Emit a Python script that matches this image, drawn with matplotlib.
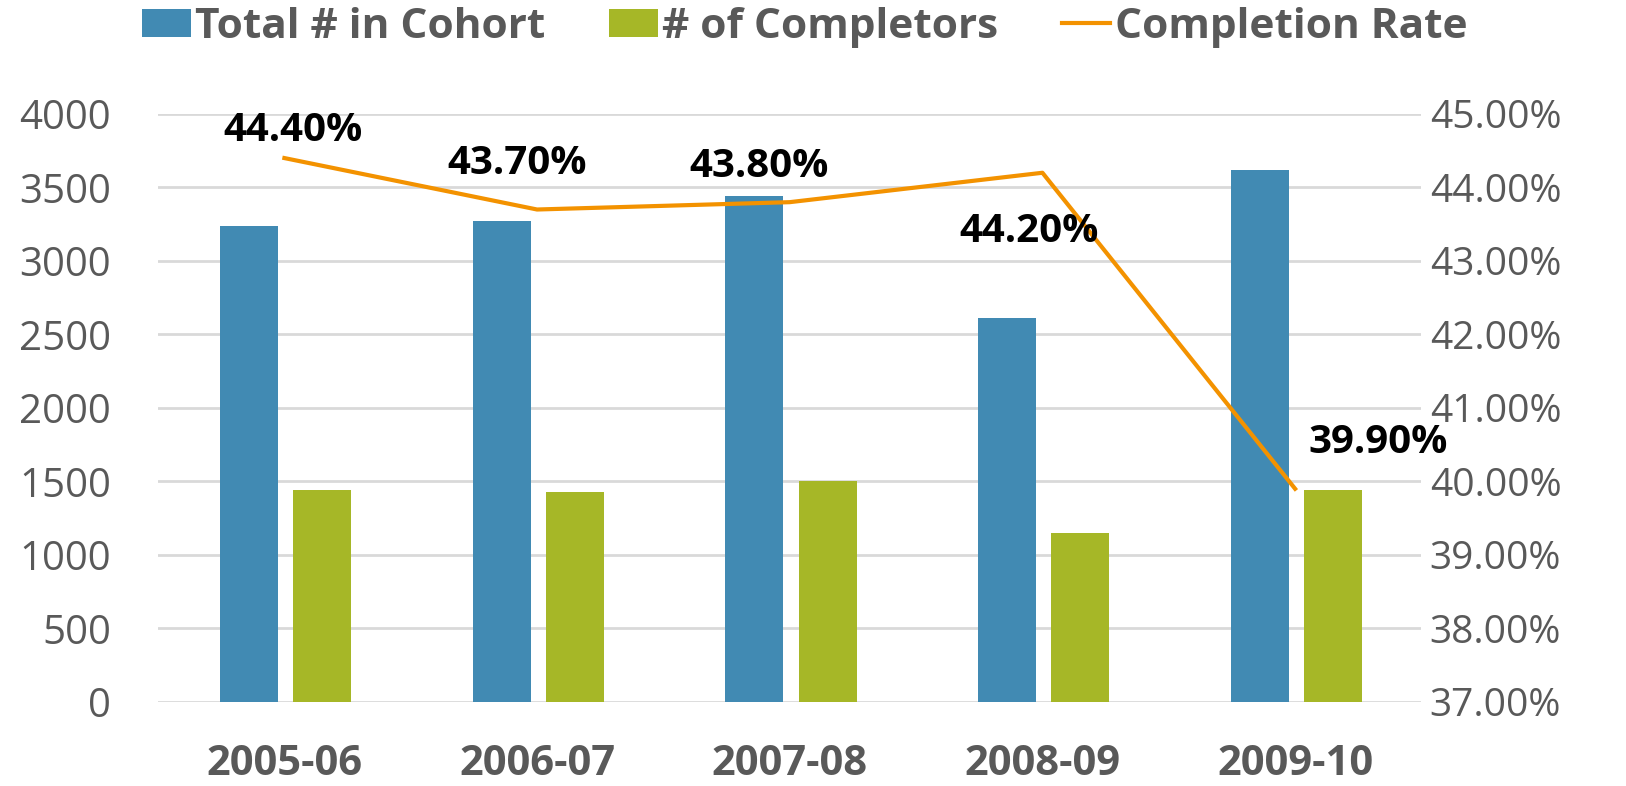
import numpy as np
import matplotlib.pyplot as plt

years = ["2005-06", "2006-07", "2007-08", "2008-09", "2009-10"]
total_cohort = [3240, 3270, 3440, 2610, 3620]
completors = [1440, 1430, 1500, 1150, 1445]
completion_rate = [44.4, 43.7, 43.8, 44.2, 39.9]
rate_labels = ["44.40%", "43.70%", "43.80%", "44.20%", "39.90%"]

plt.rcParams['font.family'] = ["Open Sans", "DejaVu Sans"]

grey = "#595959"
blue = "#418ab3"
green = "#a6b727"
orange = "#f39200"

fig = plt.figure(figsize=(16.26, 7.86), dpi=100)
ax = fig.add_axes([0.0972, 0.107, 0.777, 0.748])
ax2 = ax.twinx()

x = np.arange(len(years))
w = 0.23
b1 = ax.bar(x - 0.14, total_cohort, w, color=blue, zorder=3)
b2 = ax.bar(x + 0.15, completors, w, color=green, zorder=3)
ln, = ax2.plot(x, completion_rate, color=orange, lw=3)

ax.set_xlim(-0.5, 4.5)
ax.set_ylim(0, 4000)
ax.set_yticks(range(0, 4001, 500))
ax2.set_ylim(37, 45)
ax2.set_yticks(range(37, 46))
ax2.set_yticklabels([f"{v:.2f}%" for v in range(37, 46)])

ax.grid(axis="y", color="#d9d9d9", lw=2, zorder=0)
for a in (ax, ax2):
    for s in a.spines.values():
        s.set_visible(False)
    a.tick_params(length=0, colors=grey)
ax.tick_params(axis="y", labelsize=29, pad=34)
ax2.tick_params(axis="y", labelsize=28, pad=6)
ax.set_xticks(x)
ax.set_xticklabels(years, fontsize=30, fontweight="bold", color=grey)
ax.tick_params(axis="x", pad=30)

offsets = [(9, 28), (-20, 46), (-31, 36), (-13, -59), (83, 46)]
for i, (lab, off) in enumerate(zip(rate_labels, offsets)):
    ax2.annotate(lab, (x[i], completion_rate[i]), xytext=off, textcoords="offset pixels",
                 ha="center", va="center", fontsize=29, fontweight="bold", color="black")

fig.legend([b1, b2, ln], ["Total # in Cohort", "# of Completors", "Completion Rate"],
           loc="upper center", bbox_to_anchor=(0.495, 1.04), ncol=3, frameon=False,
           prop={"size": 30.5, "weight": "bold"}, labelcolor=grey, handlelength=1.15,
           handleheight=0.65, handletextpad=0.1, columnspacing=1.5)

fig.savefig("out.png", dpi=100)
